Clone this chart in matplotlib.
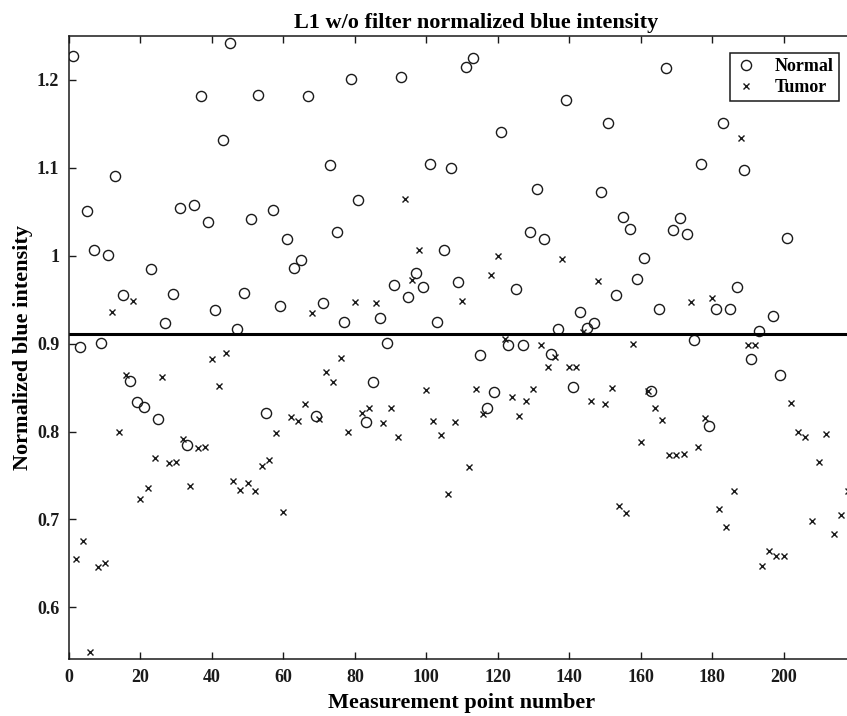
import matplotlib
matplotlib.use('Agg')
import matplotlib.pyplot as plt
from matplotlib.ticker import FuncFormatter

# Normal samples (odd measurement points)
normal_x = [1, 3, 5, 7, 9, 11, 13, 15, 17, 19, 21, 23, 25, 27, 29, 31, 33, 35, 37, 39,
            41, 43, 45, 47, 49, 51, 53, 55, 57, 59, 61, 63, 65, 67, 69, 71, 73, 75, 77, 79,
            81, 83, 85, 87, 89, 91, 93, 95, 97, 99, 101, 103, 105, 107, 109, 111, 113, 115, 117, 119,
            121, 123, 125, 127, 129, 131, 133, 135, 137, 139, 141, 143, 145, 147, 149, 151, 153, 155, 157, 159,
            161, 163, 165, 167, 169, 171, 173, 175, 177, 179, 181, 183, 185, 187, 189, 191, 193, 197, 199, 201]
normal_y = [1.227, 0.896, 1.051, 1.006, 0.901, 1.001, 1.091, 0.955, 0.857, 0.834,
            0.828, 0.985, 0.814, 0.923, 0.957, 1.054, 0.785, 1.058, 1.182, 1.038,
            0.938, 1.132, 1.242, 0.917, 0.958, 1.042, 1.183, 0.821, 1.052, 0.943,
            1.019, 0.986, 0.995, 1.182, 0.818, 0.946, 1.103, 1.027, 0.925, 1.201,
            1.063, 0.811, 0.856, 0.929, 0.901, 0.967, 1.203, 0.953, 0.980, 0.964,
            1.104, 0.925, 1.006, 1.100, 0.970, 1.215, 1.225, 0.887, 0.827, 0.845,
            1.141, 0.898, 0.962, 0.898, 1.027, 1.076, 1.019, 0.888, 0.917, 1.177,
            0.851, 0.936, 0.918, 0.923, 1.073, 1.151, 0.955, 1.044, 1.030, 0.974,
            0.997, 0.846, 0.940, 1.214, 1.029, 1.043, 1.025, 0.904, 1.104, 0.806,
            0.940, 1.151, 0.940, 0.964, 1.097, 0.882, 0.914, 0.931, 0.864, 1.020]

# Tumor samples (even measurement points)
tumor_x = [2, 4, 6, 8, 10, 12, 14, 16, 18, 20, 22, 24, 26, 28, 30, 32, 34, 36, 38, 40,
           42, 44, 46, 48, 50, 52, 54, 56, 58, 60, 62, 64, 66, 68, 70, 72, 74, 76, 78, 80,
           82, 84, 86, 88, 90, 92, 94, 96, 98, 100, 102, 104, 106, 108, 110, 112, 114, 116, 118, 120,
           122, 124, 126, 128, 130, 132, 134, 136, 138, 140, 142, 144, 146, 148, 150, 152, 154, 156, 158, 160,
           162, 164, 166, 168, 170, 172, 174, 176, 178, 180, 182, 184, 186, 188, 190, 192, 194, 196, 198, 200,
           202, 204, 206, 208, 210, 212, 214, 216, 218]
tumor_y = [0.655, 0.676, 0.549, 0.646, 0.650, 0.936, 0.800, 0.864, 0.949, 0.723,
           0.736, 0.770, 0.862, 0.764, 0.765, 0.791, 0.738, 0.781, 0.783, 0.882,
           0.852, 0.889, 0.744, 0.733, 0.741, 0.732, 0.761, 0.768, 0.798, 0.709,
           0.817, 0.812, 0.831, 0.935, 0.814, 0.868, 0.856, 0.884, 0.800, 0.947,
           0.821, 0.827, 0.946, 0.810, 0.827, 0.794, 1.065, 0.972, 1.006, 0.847,
           0.812, 0.796, 0.729, 0.811, 0.949, 0.760, 0.848, 0.820, 0.978, 1.000,
           0.905, 0.839, 0.818, 0.835, 0.848, 0.899, 0.873, 0.885, 0.996, 0.874,
           0.874, 0.913, 0.835, 0.971, 0.831, 0.850, 0.715, 0.707, 0.900, 0.788,
           0.846, 0.827, 0.813, 0.773, 0.773, 0.774, 0.947, 0.782, 0.815, 0.952,
           0.712, 0.691, 0.732, 1.134, 0.899, 0.899, 0.647, 0.664, 0.658, 0.659,
           0.832, 0.799, 0.794, 0.698, 0.765, 0.797, 0.684, 0.705, 0.732]

threshold = 0.911

plt.rcParams['font.family'] = ['Liberation Serif', 'DejaVu Serif']
plt.rcParams['font.weight'] = 'bold'
ink = '#1a1a1a'

W, H = 847, 716
fig = plt.figure(figsize=(W / 100, H / 100), dpi=100)
# axes: left 69px, top 36px, bottom 659px; right edge runs past the crop
ax = fig.add_axes([69 / W, (H - 659) / H, (855 - 69) / W, (659 - 36) / H])

ax.plot(normal_x, normal_y, linestyle='none', marker='o', markersize=7.3,
        markerfacecolor='none', markeredgecolor=ink, markeredgewidth=1.0, label='Normal')
ax.plot(tumor_x, tumor_y, linestyle='none', marker='x', markersize=5,
        color=ink, markeredgewidth=1.0, label='Tumor')
ax.axhline(threshold, color='black', linewidth=2.2)

ax.set_xlim(0, 220)
ax.set_ylim(0.5413, 1.25)
ax.set_xticks(range(0, 201, 20))
ax.set_yticks([0.6, 0.7, 0.8, 0.9, 1.0, 1.1, 1.2])
ax.yaxis.set_major_formatter(FuncFormatter(lambda v, p: f'{v:g}'))
ax.tick_params(direction='in', length=5, width=1, top=True, right=True,
               labelsize=13, colors=ink, pad=7)
for lab in ax.get_xticklabels() + ax.get_yticklabels():
    lab.set_fontweight('bold')
for s in ax.spines.values():
    s.set_linewidth(1.1)
    s.set_color(ink)

ax.set_xlabel('Measurement point number', fontsize=16, fontweight='bold', labelpad=5)
ax.set_ylabel('Normalized blue intensity', fontsize=16, fontweight='bold', labelpad=3)
t = ax.set_title('L1 w/o filter normalized blue intensity', fontsize=16,
                 fontweight='bold', pad=6)
t.set_x((476 - 69) / (855 - 69))

leg = ax.legend(loc='upper right', bbox_to_anchor=(839 / W, 1 - 53 / H),
                bbox_transform=fig.transFigure, borderaxespad=0, fancybox=False,
                edgecolor=ink, framealpha=1, prop={'weight': 'bold', 'size': 13},
                handlelength=1.2, handletextpad=1.0, borderpad=0.3, labelspacing=0.2)
leg.get_frame().set_linewidth(1.1)

fig.savefig('out.png', dpi=100)
